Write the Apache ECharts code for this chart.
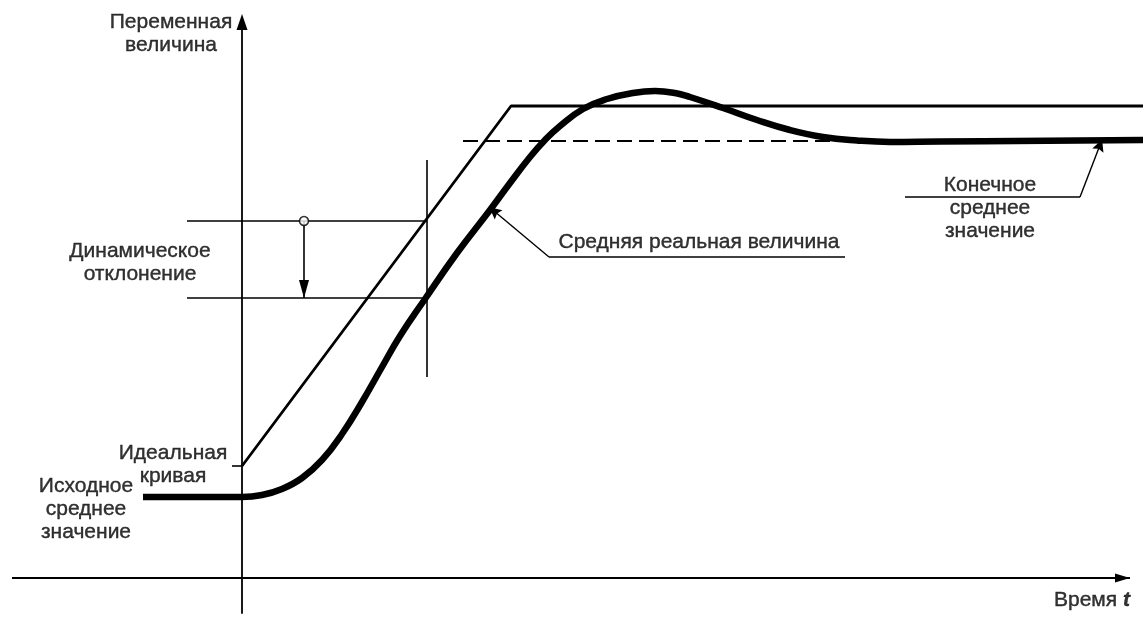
<!DOCTYPE html>
<html>
<head>
<meta charset="utf-8">
<script src="https://cdn.jsdelivr.net/npm/echarts@6/dist/echarts.min.js"></script>
<style>
  html, body { margin: 0; padding: 0; background: #fff; }
  #main { width: 1143px; height: 629px; }
</style>
</head>
<body>
<div id="main"></div>
<script>
// time t runs along x, the variable along y (arbitrary units, 0/0 at the axes crossing)
var timeAxisT = [-23, 88.8];

var idealT = [0, 26.9, 90.1];
var idealV = [11.2, 47.2, 47.2];
var idealTick = [[-1.0, 11.2], [0, 11.2]];

var realT = [-9.9, -3, 0, 2, 4, 6, 8, 10, 12, 14, 15.8, 18.3, 21.5, 24.8, 26.8, 28.8, 30.3,
  31.8, 34.1, 36.5, 39.1, 41.3, 43.3, 44.8, 48.1, 51.5, 54.8, 58.1, 61.5, 64.8, 69.8, 90.1];
var realV = [8.1, 8.1, 8.1, 8.3, 8.9, 10.0, 11.8, 14.4, 17.6, 21.1, 24.2, 27.9, 32.5, 36.8, 39.5, 42.1, 43.8,
  45.2, 46.9, 47.9, 48.5, 48.7, 48.5, 48.1, 47.0, 45.8, 44.8, 44.1, 43.75, 43.6, 43.65, 43.8];

var finalMeanT = [22.1, 60.8];
var finalMeanV = 43.7;

var gateT = 18.5;
var gateV = [20.1, 41.8];
var levelT = [-5.5, 18.5];
var deviationLevels = [35.7, 28.0];
var deviationT = 6.2;

// leaders: underline, then the arrowed stroke to the curve
var realLeader = [[60.3, 32.1], [30.7, 32.1], [25.2, 36.7]];
var finalLeader = [[66.3, 38.1], [83.8, 38.1], [85.8, 43.3]];

var labelTexts = ['Переменная\nвеличина', 'Динамическое\nотклонение', 'Идеальная\nкривая',
  'Исходное\nсреднее\nзначение', 'Средняя реальная величина', 'Конечное\nсреднее\nзначение'];
var labelAnchors = [[-7.1, 54.45], [-10.2, 31.55], [-6.9, 11.3], [-15.6, 6.9], [45.7, 33.6], [74.8, 37.0]];
var timeLabelAnchor = [88.8, -2.2];

var FONT = 'Liberation Sans, Arial, Helvetica, sans-serif';

function zip(xs, ys) {
  return xs.map(function (x, i) { return [x, ys[i]]; });
}

function plain(name, pts, width, extra) {
  return Object.assign({
    type: 'line',
    name: name,
    data: pts,
    symbol: 'none',
    clip: false,
    silent: true,
    animation: false,
    lineStyle: { color: '#000', width: width }
  }, extra || {});
}

var chart = echarts.init(document.getElementById('main'), null, { renderer: 'canvas' });

var labelData = labelTexts.map(function (t, i) {
  return { value: labelAnchors[i], label: { formatter: t } };
});
labelData.push({
  value: timeLabelAnchor,
  label: { formatter: 'Время {t|t}', align: 'right' }
});

var option = {
  backgroundColor: '#fff',
  animation: false,
  grid: { left: 12, right: 0, top: 22, bottom: 16, outerBoundsMode: 'none' },
  xAxis: {
    type: 'value',
    min: -23,
    max: 90.1,
    axisLine: { show: false },
    axisTick: { show: false },
    axisLabel: { show: false },
    splitLine: { show: false }
  },
  yAxis: {
    type: 'value',
    min: -3.5,
    max: 55.6,
    axisLine: {
      onZero: true,
      symbol: ['none', 'triangle'],
      symbolSize: [11, 16],
      lineStyle: { color: '#000', width: 1.8 }
    },
    axisTick: { show: false },
    axisLabel: { show: false },
    splitLine: { show: false }
  },
  series: [
    {
      type: 'line',
      name: 'timeAxis',
      silent: true,
      animation: false,
      clip: false,
      symbol: 'triangle',
      symbolSize: [9, 15],
      symbolRotate: -90,
      symbolOffset: [-7.5, 0],
      itemStyle: { color: '#000' },
      lineStyle: { color: '#000', width: 1.8 },
      data: [
        { value: [timeAxisT[0], 0], symbol: 'none' },
        [timeAxisT[1], 0]
      ]
    },
    plain('gate', [[gateT, gateV[0]], [gateT, gateV[1]]], 1.6),
    plain('idealLevel', [[levelT[0], deviationLevels[0]], [levelT[1], deviationLevels[0]]], 1.6),
    plain('realLevel', [[levelT[0], deviationLevels[1]], [levelT[1], deviationLevels[1]]], 1.6),
    plain('idealTick', idealTick, 1.6),
    plain('ideal', zip(idealT, idealV), 2.8),
    plain('finalMean', [[finalMeanT[0], finalMeanV], [finalMeanT[1], finalMeanV]], 2, {
      lineStyle: { color: '#000', width: 2, type: [15, 7] }
    }),
    plain('real', zip(realT, realV), 6.5, { smooth: 0.45 }),
    {
      type: 'line',
      name: 'deviation',
      silent: true,
      animation: false,
      clip: false,
      symbol: 'triangle',
      symbolSize: [10, 18],
      symbolRotate: 180,
      symbolOffset: [0, '-50%'],
      itemStyle: { color: '#000' },
      lineStyle: { color: '#000', width: 1.6 },
      data: [
        { value: [deviationT, deviationLevels[0]], symbol: 'none' },
        [deviationT, deviationLevels[1]]
      ]
    },
    {
      type: 'scatter',
      name: 'deviationStart',
      silent: true,
      animation: false,
      symbol: 'circle',
      symbolSize: 9,
      z: 5,
      itemStyle: { color: '#fff', borderColor: '#000', borderWidth: 1.6 },
      data: [[deviationT, deviationLevels[0]]]
    },
    plain('realUnderline', realLeader.slice(0, 2), 1.4),
    plain('finalUnderline', finalLeader.slice(0, 2), 1.4),
    {
      type: 'lines',
      name: 'leaderArrows',
      coordinateSystem: 'cartesian2d',
      silent: true,
      animation: false,
      symbol: ['none', 'path://M5,0 L9,12 L5,10 L1,12 Z'],
      symbolSize: 12,
      symbolKeepAspect: true,
      lineStyle: { color: '#000', width: 1.4, opacity: 1 },
      data: [{ coords: realLeader.slice(1) }, { coords: finalLeader.slice(1) }]
    },
    {
      type: 'scatter',
      name: 'labels',
      silent: true,
      animation: false,
      symbolSize: 1,
      itemStyle: { color: 'rgba(0,0,0,0)' },
      z: 6,
      label: {
        show: true,
        position: 'inside',
        color: '#000',
        fontFamily: FONT,
        fontSize: 21,
        lineHeight: 23,
        align: 'center',
        textBorderColor: '#000',
        textBorderWidth: 0.4,
        rich: {
          t: {
            fontFamily: FONT, fontSize: 21, fontStyle: 'italic', fontWeight: 'bold', color: '#000',
            textBorderColor: '#000', textBorderWidth: 0.4
          }
        }
      },
      data: labelData
    }
  ]
};

chart.setOption(option);
</script>
</body>
</html>
